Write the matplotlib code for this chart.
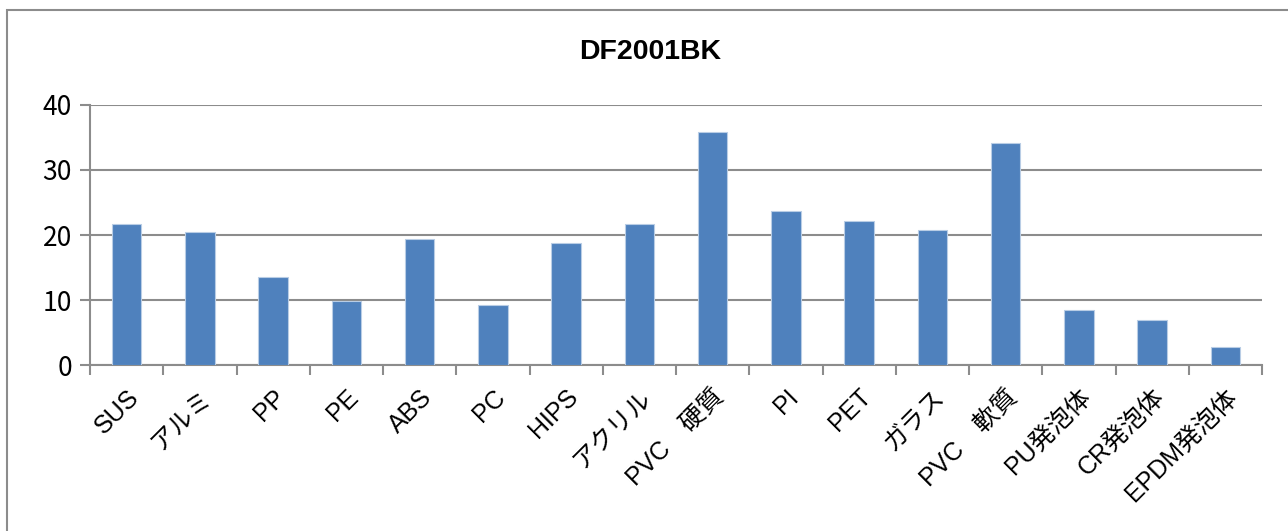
import matplotlib
matplotlib.use("Agg")
import matplotlib.pyplot as plt
from matplotlib.patches import Rectangle
import numpy as np

plt.rcParams['font.family'] = ['Noto Sans CJK JP', 'DejaVu Sans']

title = "DF2001BK"
categories = ["SUS", "アルミ", "PP", "PE", "ABS", "PC", "HIPS", "アクリル",
              "PVC　硬質", "PI", "PET", "ガラス", "PVC　軟質", "PU発泡体",
              "CR発泡体", "EPDM発泡体"]
values = [21.7, 20.5, 13.6, 9.9, 19.4, 9.2, 18.7, 21.7,
          35.8, 23.7, 22.2, 20.7, 34.1, 8.5, 7.0, 2.8]
yticks = [0, 10, 20, 30, 40]

W, H = 1288, 531
fig = plt.figure(figsize=(W / 100, H / 100), dpi=100)
fig.patch.set_facecolor('white')

# outer chart frame
fig.patches.append(Rectangle((6.5 / W, -0.1), 1.2, 1.1 - 10 / H,
                             transform=fig.transFigure, fill=False,
                             edgecolor='#8c8c8c', linewidth=1.5))

ax = fig.add_axes([90 / W, 1 - 365.3 / H, (1262 - 90) / W, (365.3 - 104.7) / H])
x = np.arange(len(categories))
ax.bar(x, values, width=0.4, color='#4F81BD', edgecolor='#B9CDE5',
       linewidth=0.8, zorder=3)

ax.set_xlim(-0.5, len(categories) - 0.5)
ax.set_ylim(0, 40)
ax.set_yticks(yticks)
ax.set_yticklabels([str(v) for v in yticks], fontsize=19)
ax.yaxis.grid(True, color='#8c8c8c', linewidth=1.5, zorder=0)
ax.set_axisbelow(True)

ax.set_xticks(x)
ax.set_xticklabels(categories, rotation=45, ha='right',
                   rotation_mode='anchor', fontsize=18,
                   family=['Liberation Sans', 'Noto Sans CJK JP'])
ax.tick_params(axis='x', which='major', length=0, pad=14)
ax.set_xticks(np.arange(-0.5, len(categories), 1.0), minor=True)
ax.tick_params(axis='x', which='minor', length=7, width=1.5, color='#8c8c8c')
ax.tick_params(axis='y', length=7, width=1.5, color='#8c8c8c', pad=6)

for s in ['top', 'right']:
    ax.spines[s].set_visible(False)
for s in ['left', 'bottom']:
    ax.spines[s].set_color('#8c8c8c')
    ax.spines[s].set_linewidth(1.5)

fig.text(650 / W, 1 - 52 / H, title, ha='center', va='center',
         fontsize=20.5, fontweight='bold', family=['Liberation Sans', 'DejaVu Sans'])

fig.savefig("out.png", dpi=100)
